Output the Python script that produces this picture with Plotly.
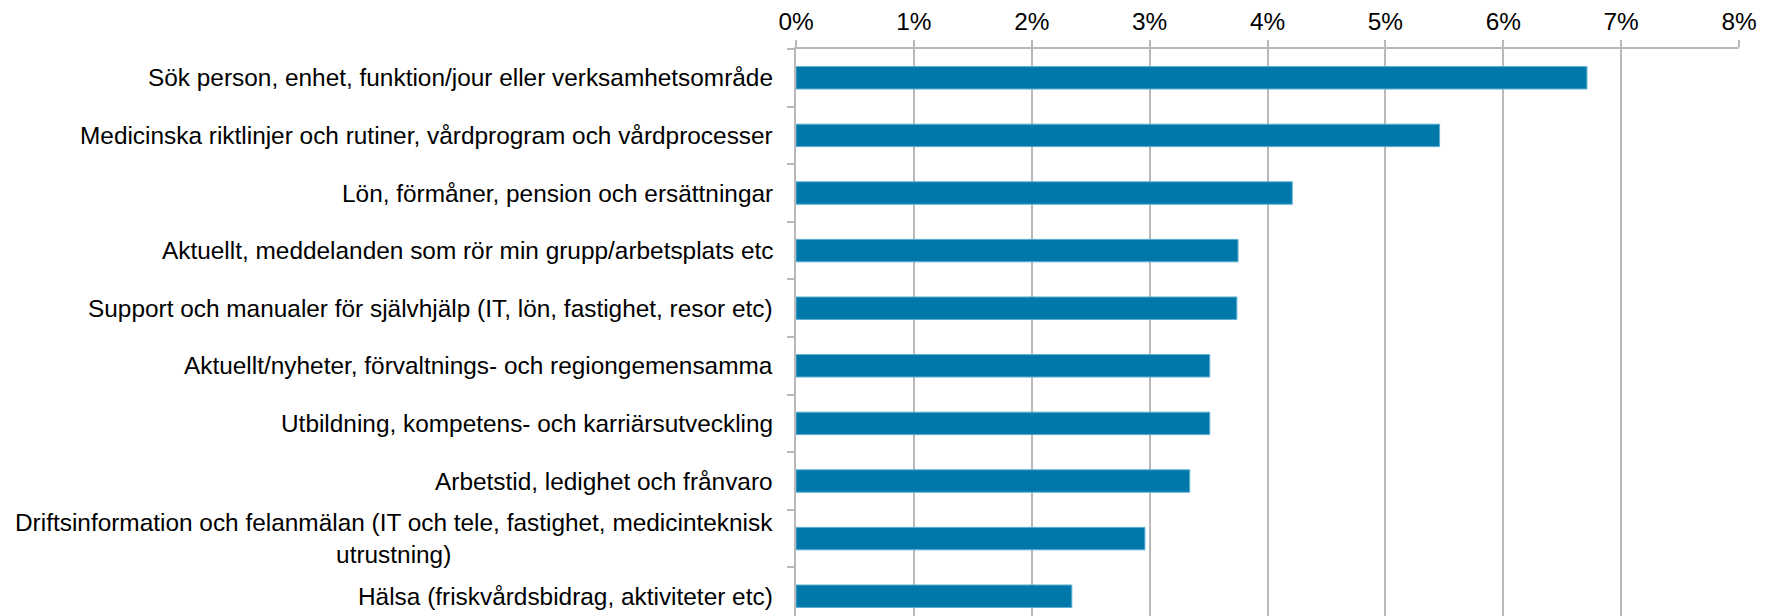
import plotly.graph_objects as go

categories = [
    "Sök person, enhet, funktion/jour eller verksamhetsområde",
    "Medicinska riktlinjer och rutiner, vårdprogram och vårdprocesser",
    "Lön, förmåner, pension och ersättningar",
    "Aktuellt, meddelanden som rör min grupp/arbetsplats etc",
    "Support och manualer för självhjälp (IT, lön, fastighet, resor etc)",
    "Aktuellt/nyheter, förvaltnings- och regiongemensamma",
    "Utbildning, kompetens- och karriärsutveckling",
    "Arbetstid, ledighet och frånvaro",
    "Driftsinformation och felanmälan (IT och tele, fastighet, medicinteknisk<br>utrustning)",
    "Hälsa (friskvårdsbidrag, aktiviteter etc)",
]
values = [0.0671, 0.0546, 0.0421, 0.0375, 0.0374, 0.0351, 0.0351, 0.0334, 0.0296, 0.0234]
x_ticks = [0, 0.01, 0.02, 0.03, 0.04, 0.05, 0.06, 0.07, 0.08]

FONT = "Liberation Sans, Arial, sans-serif"
GRID = "#b9b9b9"
FS = 24.4

fig = go.Figure()
fig.add_trace(go.Bar(
    y=categories,
    x=values,
    orientation="h",
    width=0.39,
    marker=dict(color="#0078aa", line=dict(color="#5fb0d2", width=1)),
    hoverinfo="skip",
))

for c in categories:
    fig.add_annotation(
        x=0, xref="paper", y=c, yref="y",
        text=c, showarrow=False, xanchor="right", yanchor="middle",
        align="center", xshift=-21,
        font=dict(family=FONT, size=FS, color="#000000"),
    )

fig.update_layout(
    width=1767, height=608,
    margin=dict(l=788, r=36, t=41, b=0),
    paper_bgcolor="white", plot_bgcolor="white",
    showlegend=False,
    font=dict(family=FONT, size=FS, color="#000000"),
    xaxis=dict(
        side="top", range=[0, 0.08], tickvals=x_ticks, tickformat=".0%",
        showgrid=True, gridcolor=GRID, gridwidth=1.5,
        showline=True, linecolor=GRID, linewidth=1.5,
        ticks="outside", ticklen=7, tickcolor=GRID, tickwidth=1.5,
        zeroline=False, fixedrange=True,
        tickfont=dict(family=FONT, size=FS, color="#000000"),
    ),
    yaxis=dict(
        type="category", categoryorder="array", categoryarray=categories,
        range=[-0.5 + 567 / 57.6, -0.5],
        showticklabels=False, tickson="boundaries",
        ticks="outside", ticklen=7, tickcolor=GRID, tickwidth=1.5,
        showline=True, linecolor=GRID, linewidth=1.5,
        showgrid=False, zeroline=False, fixedrange=True,
    ),
)

fig.write_html("out.html")
